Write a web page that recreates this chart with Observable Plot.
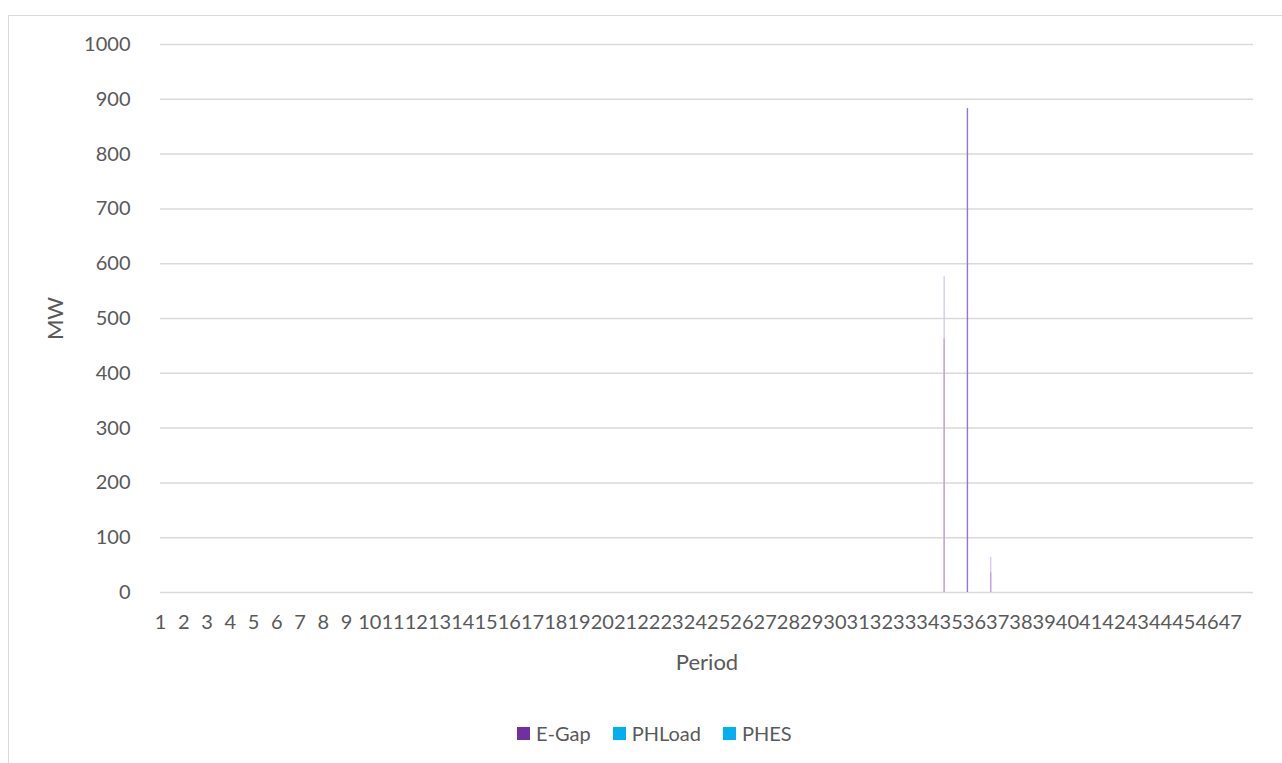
<!DOCTYPE html>
<html>
<head>
<meta charset="utf-8">
<script src="https://cdn.jsdelivr.net/npm/d3@7"></script>
<script src="https://cdn.jsdelivr.net/npm/@observablehq/plot@0.6"></script>
<style>
  html, body { margin: 0; padding: 0; background: #fff; }
  body { width: 1282px; height: 763px; position: relative; overflow: hidden; font-family: Lato, "Open Sans", sans-serif; color: #595959; }
  #frame { position: absolute; left: 8px; top: 15px; width: 1300px; height: 800px; border: 1px solid #d9d9d9; box-sizing: border-box; }
  #chart { position: absolute; left: 0; top: 0; }
  #legend { position: absolute; top: 721px; left: 517px; display: flex; align-items: center; font-size: 20px; color: #595959; }
  #legend .item { display: flex; align-items: center; margin-right: 22px; }
  #legend .sw { width: 13px; height: 13px; margin-right: 6px; }
</style>
</head>
<body>
<div id="frame"></div>
<div id="chart"></div>
<div id="legend"></div>
<script>
// ---- data ----
const periodLabels = [1,2,3,4,5,6,7,8,9,10,11,12,13,14,15,16,17,18,19,20,21,22,23,24,25,26,27,28,29,30,31,32,33,34,35,36,37,38,39,40,41,42,43,44,45,46,47];
const yTicks = [0,100,200,300,400,500,600,700,800,900,1000];

const barPeriods = [35, 35, 36, 37, 37];
const barLayers  = ["upper", "lower", "main", "upper", "lower"];
const barValues  = [576, 463, 883, 64, 36];

const legendSeries = ["E-Gap", "PHLoad", "PHES"];
const legendColors = ["#7030A0", "#00B0F0", "#00B0F0"];

const layerColors = {upper: "#d9c8ef", lower: "#c3a5e5", main: "#9a72cc"};

const bars = barPeriods.map((p, i) => ({period: p, layer: barLayers[i], value: barValues[i]}));

const chart = Plot.plot({
  width: 1282,
  height: 700,
  marginLeft: 160,
  marginRight: 29,
  marginTop: 44,
  marginBottom: 108,
  style: {fontFamily: "Lato, 'Open Sans', sans-serif", color: "#595959", background: "transparent", overflow: "visible"},
  x: {type: "linear", domain: [1, 48], axis: null},
  y: {domain: [0, 1000], axis: null},
  marks: [
    Plot.ruleY(yTicks, {stroke: "#d9d9d9", strokeWidth: 1.5}),
    Plot.rectY(bars, {
      x1: d => d.period - 0.31,
      x2: d => d.period - 0.25,
      y1: 0,
      y2: "value",
      fill: d => layerColors[d.layer]
    }),
    Plot.axisY({ticks: yTicks, label: null, tickSize: 0, tickPadding: 30, fontSize: 20, tickFormat: d => String(d), color: "#595959"}),
    Plot.axisX({ticks: periodLabels, label: null, tickSize: 0, tickPadding: 22, fontSize: 20, tickFormat: d => String(d), color: "#595959"}),
    Plot.text(["MW"], {frameAnchor: "left", dx: -105, rotate: -90, textAnchor: "middle", lineAnchor: "middle", fontSize: 22, fill: "#595959"}),
    Plot.text(["Period"], {frameAnchor: "bottom", dy: 70, textAnchor: "middle", lineAnchor: "middle", fontSize: 22, fill: "#595959"})
  ]
});
document.getElementById("chart").appendChild(chart);

const legend = document.getElementById("legend");
legendSeries.forEach((s, i) => {
  const item = document.createElement("div");
  item.className = "item";
  const sw = document.createElement("div");
  sw.className = "sw";
  sw.style.background = legendColors[i];
  const t = document.createElement("span");
  t.textContent = s;
  item.appendChild(sw);
  item.appendChild(t);
  legend.appendChild(item);
});
</script>
</body>
</html>
